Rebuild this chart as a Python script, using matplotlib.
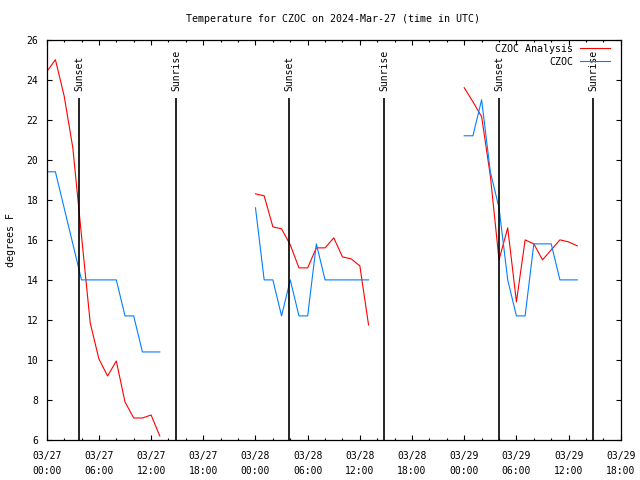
import matplotlib
matplotlib.use('Agg')
import matplotlib.pyplot as plt
import matplotlib.dates as mdates
import numpy as np
import pandas as pd

""" Hourly temperature, CZOC analysis vs observed, three days """

start = pd.Timestamp('2024-03-27 00:00')

# hours after 03/27 00:00 for each day's block of data
day_hours = [np.arange(0, 14), np.arange(24, 38), np.arange(48, 62)]

analysis = [
    [24.4, 25.0, 23.2, 20.6, 16.2, 11.85, 10.05, 9.2, 9.95, 7.9, 7.1, 7.1, 7.25, 6.2],
    [18.3, 18.2, 16.65, 16.55, 15.75, 14.6, 14.6, 15.6, 15.6, 16.1, 15.15, 15.05, 14.7, 11.75],
    [23.6, 22.9, 22.15, 19.2, 15.0, 16.6, 12.9, 16.0, 15.8, 15.0, 15.5, 16.0, 15.9, 15.7],
]
observed = [
    [19.4, 19.4, 17.6, 15.8, 14.0, 14.0, 14.0, 14.0, 14.0, 12.2, 12.2, 10.4, 10.4, 10.4],
    [17.6, 14.0, 14.0, 12.2, 14.0, 12.2, 12.2, 15.8, 14.0, 14.0, 14.0, 14.0, 14.0, 14.0],
    [21.2, 21.2, 23.0, 19.4, 17.6, 14.0, 12.2, 12.2, 15.8, 15.8, 15.8, 14.0, 14.0, 14.0],
]

sun_times = ['2024-03-27 03:42', '2024-03-27 14:54', '2024-03-28 03:53',
             '2024-03-28 14:48', '2024-03-29 03:59', '2024-03-29 14:50']
sun_labels = ['Sunset', 'Sunrise', 'Sunset', 'Sunrise', 'Sunset', 'Sunrise']

xtick_labels = ['03/27\n00:00', '03/27\n06:00', '03/27\n12:00', '03/27\n18:00',
                '03/28\n00:00', '03/28\n06:00', '03/28\n12:00', '03/28\n18:00',
                '03/29\n00:00', '03/29\n06:00', '03/29\n12:00', '03/29\n18:00']
yticks = [6, 8, 10, 12, 14, 16, 18, 20, 22, 24, 26]

plt.rcParams['font.family'] = ['DejaVu Sans Mono']
plt.rcParams['font.size'] = 7

fig = plt.figure(figsize=(6.4, 4.8), dpi=100)
ax = fig.add_axes([0.073, 0.0833, 0.897, 0.834])

for i in range(3):
    t = start + pd.to_timedelta(day_hours[i], unit='h')
    ax.plot(t, analysis[i], color='#ff0000', lw=0.8,
            label='CZOC Analysis' if i == 0 else None)
    ax.plot(t, observed[i], color='#0080ff', lw=0.8,
            label='CZOC' if i == 0 else None)

for st, lab in zip(sun_times, sun_labels):
    ts = pd.Timestamp(st)
    ax.vlines(ts, 6, 23.1, color='black', lw=1.2)
    ax.text(ts, 23.45, lab, rotation=90, ha='center', va='bottom', fontsize=7)

ax.set_xlim(start, start + pd.Timedelta(hours=66))
ax.set_ylim(6, 26)

xt = [start + pd.Timedelta(hours=6 * k) for k in range(12)]
ax.set_xticks(xt, xtick_labels)
for lbl in ax.get_xticklabels():
    lbl.set_linespacing(1.55)
ax.xaxis.set_minor_locator(mdates.HourLocator(byhour=range(0, 24, 2)))
ax.set_yticks(yticks, [str(v) for v in yticks])

ax.tick_params(which='both', direction='in', top=True, right=True, width=0.8)
ax.tick_params(axis='x', which='major', length=3.5, pad=8)
ax.tick_params(axis='x', which='minor', length=1.7)
ax.tick_params(axis='y', which='major', length=3.5, pad=6)
for s in ax.spines.values():
    s.set_linewidth(0.9)

leg = ax.legend(loc='upper right', bbox_to_anchor=(0.985, 0.995), frameon=False,
                markerfirst=False, handlelength=3.0, handletextpad=0.7,
                labelspacing=0.3, borderaxespad=0, borderpad=0.2, fontsize=7.2)

fig.text(0.52, 0.96, 'Temperature for CZOC on 2024-Mar-27 (time in UTC)',
         ha='center', va='center', fontsize=7.2)
fig.text(0.017, 0.5, 'degrees F', rotation=90, ha='center', va='center', fontsize=7.2)

fig.savefig('out.png', dpi=100)
